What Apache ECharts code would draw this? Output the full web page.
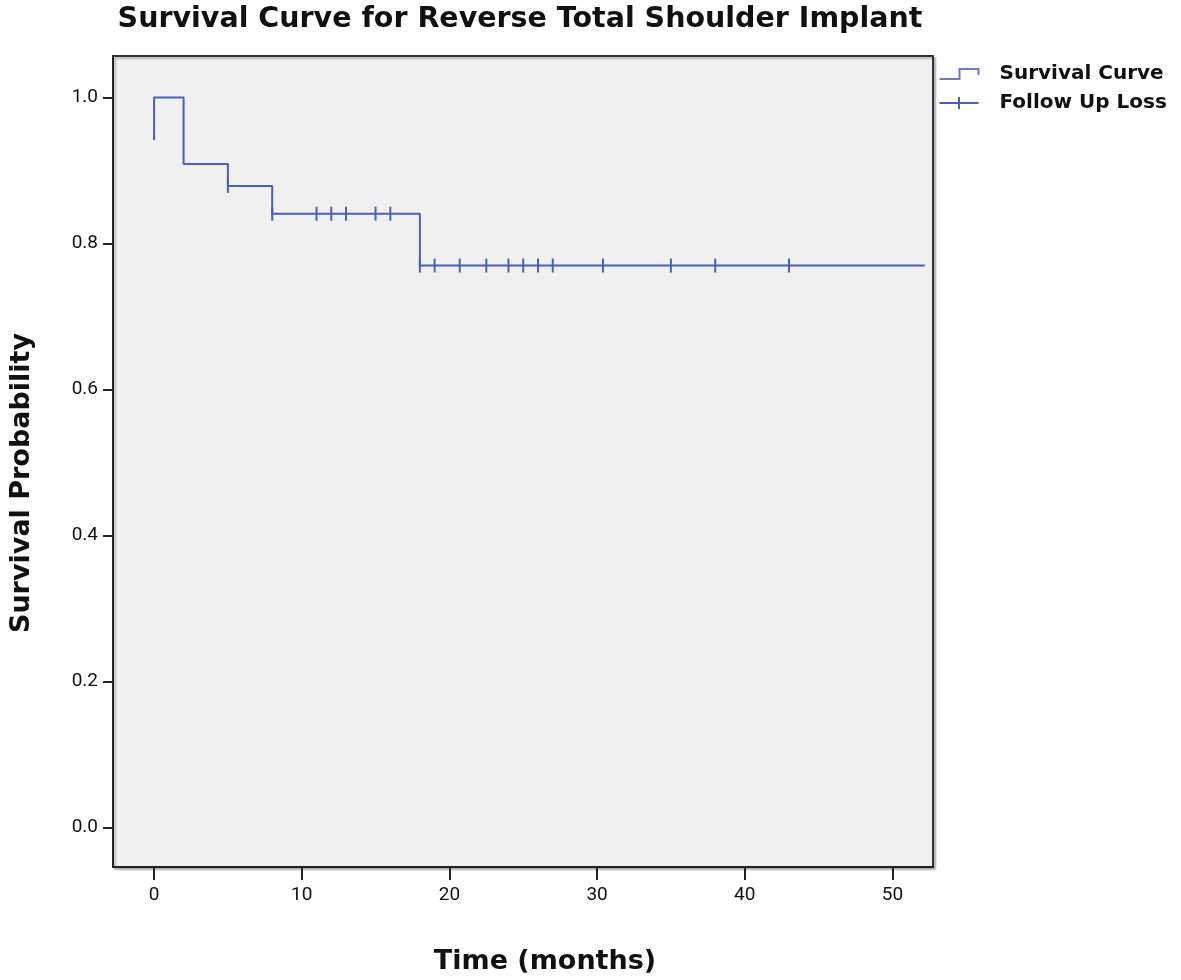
<!DOCTYPE html>
<html>
<head>
<meta charset="utf-8">
<script src="https://cdn.jsdelivr.net/npm/echarts@6/dist/echarts.min.js"></script>
<style>
html,body{margin:0;padding:0;background:#fff;}
#chart{width:1181px;height:980px;}
</style>
</head>
<body>
<div id="chart"></div>
<script>
// Kaplan-Meier step curve (time in months, survival probability)
const stepTimes = [0, 0, 2, 5, 8, 18, 52.2];
const stepSurv  = [0.942, 1.0, 0.909, 0.879, 0.841, 0.770, 0.770];
// Censored observations (follow-up loss)
const censorTimes = [5, 8, 11, 12, 13, 15, 16, 18, 19, 20.7, 22.5, 24, 25, 26, 27, 30.4, 35, 38, 43];
const censorSurv  = [0.879, 0.841, 0.841, 0.841, 0.841, 0.841, 0.841, 0.770, 0.770, 0.770, 0.770, 0.770, 0.770, 0.770, 0.770, 0.770, 0.770, 0.770, 0.770];
const xTicks = [0, 10, 20, 30, 40, 50];
const yTicks = [0, 0.2, 0.4, 0.6, 0.8, 1.0];
const seriesNames = ['Survival Curve', 'Follow Up Loss'];
const titleText = 'Survival Curve for Reverse Total Shoulder Implant';
const xName = 'Time (months)';
const yName = 'Survival Probability';

const FONT = '"DejaVu Sans", "Open Sans", sans-serif';
const TICKFONT = '"Roboto", "Noto Sans", sans-serif';
const LINE = '#4a60b6';

const chart = echarts.init(document.getElementById('chart'), null, {renderer: 'canvas'});
const option = {
  backgroundColor: '#ffffff',
  animation: false,
  title: {
    text: titleText,
    left: 515, top: 0, textAlign: 'center',
    textStyle: {fontFamily: FONT, fontSize: 28.5, fontWeight: 'bold', color: '#111'}
  },
  legend: {
    orient: 'vertical',
    left: 932, top: 59,
    itemWidth: 39, itemHeight: 12, itemGap: 9,
    textStyle: {fontFamily: FONT, fontSize: 20, fontWeight: 'bold', color: '#111', padding: [0, 0, 0, 16]},
    data: [
      {name: seriesNames[0], icon: 'path://M0,10 L20,10 L20,0 L39,0 L39,6',
       itemStyle: {color: 'none', borderColor: '#6a7cc8', borderWidth: 2}},
      {name: seriesNames[1], icon: 'path://M0,6 L39,6 M19.5,0 L19.5,12',
       itemStyle: {color: 'none', borderColor: LINE, borderWidth: 2}}
    ]
  },
  grid: {
    left: 113, right: 248, top: 56, bottom: 113,
    show: true, backgroundColor: '#f0f0f0', borderColor: '#333', borderWidth: 2,
    shadowColor: 'rgba(0,0,0,0.25)', shadowOffsetX: 2, shadowOffsetY: 2, shadowBlur: 2
  },
  xAxis: {
    type: 'value', min: -2.78, max: 52.75,
    splitLine: {show: false},
    axisLine: {show: true, onZero: false, lineStyle: {color: '#222', width: 2}},
    axisTick: {show: true, customValues: xTicks, length: 13, lineStyle: {color: '#222', width: 2}},
    axisLabel: {customValues: xTicks, margin: 19, fontFamily: TICKFONT, fontSize: 19, color: '#111'}
  },
  yAxis: {
    type: 'value', min: -0.054, max: 1.057,
    splitLine: {show: false},
    axisLine: {show: true, onZero: false, lineStyle: {color: '#222', width: 2}},
    axisTick: {show: true, customValues: yTicks, length: 10, lineStyle: {color: '#222', width: 2}},
    axisLabel: {customValues: yTicks, margin: 15, fontFamily: TICKFONT, fontSize: 19, color: '#111',
      formatter: v => v.toFixed(1)}
  },
  graphic: [
    {type: 'text', x: 545, y: 962,
     style: {text: xName, fontFamily: FONT, fontSize: 27, fontWeight: 'bold', fill: '#111',
       align: 'center', verticalAlign: 'middle'}},
    {type: 'text', x: 22, y: 483, rotation: Math.PI / 2,
     style: {text: yName, fontFamily: FONT, fontSize: 27, fontWeight: 'bold', fill: '#111',
       align: 'center', verticalAlign: 'middle'}}
  ],
  series: [
    {
      name: seriesNames[0], type: 'line', step: 'end', showSymbol: false,
      data: stepTimes.map((t, i) => [t, stepSurv[i]]),
      lineStyle: {color: LINE, width: 2}, itemStyle: {color: LINE},
      z: 2
    },
    {
      name: seriesNames[1], type: 'scatter', symbol: 'rect', symbolSize: [2, 14],
      data: censorTimes.map((t, i) => [t, censorSurv[i]]),
      itemStyle: {color: LINE, opacity: 1},
      z: 3
    }
  ]
};
chart.setOption(option);
</script>
</body>
</html>
